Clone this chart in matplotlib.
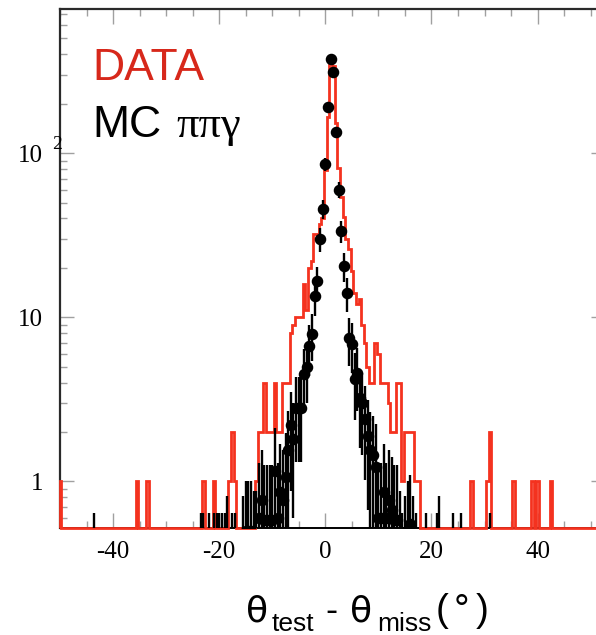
import numpy as np
import matplotlib
matplotlib.use("Agg")
import matplotlib.pyplot as plt
from matplotlib.ticker import MultipleLocator, FixedLocator, NullFormatter, FixedFormatter

plt.rcParams['axes.unicode_minus'] = False

BIN_W = 0.5

# DATA: event counts per 0.5 deg bin, core region given by bin centre
data_core_start = -13.0
data_core = [1, 2, 2, 4, 2, 2, 2, 4, 2, 2, 4, 4, 4,            # -13.0 .. -7.0
             8, 9, 10, 10, 10, 16, 11, 20, 22, 32, 32, 37, 40,  # -6.5 .. -0.5
             79, 166, 375, 340, 152, 81, 54, 41, 30, 26, 19, 14, 12, 13, 9, 7,  # 0.0 .. 7.5
             5, 4, 4, 7, 6, 4, 4, 4, 3, 2, 2, 4, 4, 1, 2, 2, 2, 2, 1, 1]        # 8.0 .. 17.5
# isolated DATA entries in the tails
data_tail_x = [-50.0, -35.5, -33.5, -23.0, -21.0, -18.0, -17.5, -17.0,
               27.5, 30.5, 31.0, 35.5, 39.0, 40.0, 42.5]
data_tail_n = [1, 1, 1, 1, 1, 1, 2, 1, 1, 1, 2, 1, 1, 1, 1]

# MC pi pi gamma: normalised bin contents, core region
mc_core_start = -13.5
mc_core = [0.35, 0.35, 0.6, 0.77, 0.58, 0.58, 0.58, 0.58, 1.15, 0.6, 0.86, 0.77, 1.06, 1.56,
           2.2, 1.8, 2.8, 2.8, 2.8, 4.5, 5.0, 6.7, 7.9, 13.4, 16.7, 29.9, 45.6,
           85.7, 191, 374, 313, 134, 60, 33.6, 20.5, 14.1, 7.5, 6.9, 4.2, 4.6, 3.2, 3.0,
           2.4, 1.9, 1.55, 1.44, 1.23, 0.6, 0.6, 0.86, 0.6, 0.77, 0.67, 0.58, 0.58, 0.35]
# single weighted MC events far out in the tails
mc_tail_x = [-43.5, -23.5, -23.0, -22.0, -21.0, -20.5, -20.0, -19.5, -19.0, -18.5, -17.5, -17.0,
             -15.5, -15.0, -14.5, -14.0, 14.5, 15.0, 15.5, 16.0, 16.5, 17.0, 19.0, 21.0, 21.5,
             24.0, 25.5, 31.0]
mc_tail_v = [0.32, 0.32, 0.32, 0.32, 0.32, 0.32, 0.32, 0.32, 0.32, 0.41, 0.32, 0.32,
             0.41, 0.5, 0.5, 0.5, 0.32, 0.41, 0.5, 0.55, 0.41, 0.32, 0.32, 0.32, 0.41,
             0.32, 0.32, 0.32]
MC_WEIGHT = 0.8   # effective per-event weight of the normalised MC core

x_ticks = [-40, -20, 0, 20, 40]
YMIN, YMAX = 0.52, 755.0
XMIN, XMAX = -50.0, 52.7

RED_LINE = '#f4321f'
RED_TEXT = '#d7281b'

# ---- histogram binning
edges = np.arange(-50.25, 53.0, BIN_W)
centres = edges[:-1] + BIN_W / 2
counts = np.zeros(len(centres))


def bin_index(c):
    return int(round((c - centres[0]) / BIN_W))


for k, v in enumerate(data_core):
    counts[bin_index(data_core_start + k * BIN_W)] += v
for c, v in zip(data_tail_x, data_tail_n):
    counts[bin_index(c)] += v

mc_core_x = mc_core_start + BIN_W * np.arange(len(mc_core))
mc_core_v = np.array(mc_core)
mc_core_e = np.sqrt(mc_core_v * MC_WEIGHT)
mc_tail_e = np.array(mc_tail_v)          # one event: error equals its weight
mc_x = np.concatenate([mc_core_x, mc_tail_x])
mc_v = np.concatenate([mc_core_v, mc_tail_v])
mc_e = np.concatenate([mc_core_e, mc_tail_e])

fig = plt.figure(figsize=(5.96, 6.35), dpi=100)
W, H = 596.0, 635.0
ax_l, ax_r, ax_t, ax_b = 60.0, 605.0, 9.0, 528.0
ax = fig.add_axes([ax_l / W, 1 - ax_b / H, (ax_r - ax_l) / W, (ax_b - ax_t) / H])
ax.set_yscale('log')
ax.set_xlim(XMIN, XMAX)
ax.set_ylim(YMIN, YMAX)

# DATA as an outline histogram; empty bins sit on the bottom of the frame
stair_vals = np.where(counts > 0, counts, YMIN)
e = edges.copy()
e[0] = XMIN
ax.stairs(stair_vals, e, baseline=YMIN, fill=False, color=RED_LINE, lw=2.0,
          zorder=3, clip_on=False)

# MC points with error bars
lo = np.clip(mc_v - mc_e, 1e-3, None)
hi = mc_v + mc_e
ax.vlines(mc_x, lo, hi, color='black', lw=1.7, zorder=4)
ax.plot(mc_x, mc_v, 'o', color='black', ms=7.3, zorder=5)

# frame
for s in ['left', 'top', 'right']:
    ax.spines[s].set_color('#2a2a2a')
    ax.spines[s].set_linewidth(1.6)
ax.spines['bottom'].set_color('black')
ax.spines['bottom'].set_linewidth(1.4)

ax.xaxis.set_major_locator(FixedLocator(x_ticks))
ax.xaxis.set_minor_locator(MultipleLocator(5))
ax.yaxis.set_major_locator(FixedLocator([1, 10, 100]))
ax.yaxis.set_major_formatter(FixedFormatter(['1', '10', '10']))
ax.yaxis.set_minor_locator(FixedLocator([m * 10.0 ** d for d in (-1, 0, 1, 2) for m in range(2, 10)]))
ax.yaxis.set_minor_formatter(NullFormatter())

tick_col = '#a0a0a0'
ax.tick_params(axis='x', which='major', direction='in', top=True, bottom=True,
               length=10.5, width=1.0, color=tick_col, labelsize=18, pad=9)
ax.tick_params(axis='x', which='minor', direction='in', top=True, bottom=True,
               length=5, width=1.0, color=tick_col)
ax.tick_params(axis='y', which='major', direction='in', left=True, right=True,
               length=10, width=1.0, color=tick_col, labelsize=18, pad=12)
ax.tick_params(axis='y', which='minor', direction='in', left=True, right=True,
               length=5, width=1.0, color=tick_col)
for lab in ax.get_xticklabels() + ax.get_yticklabels():
    lab.set_family('Liberation Serif')

# exponent of the 10^2 label
fig.text(52 / W, 1 - 149 / H, '2', family='Liberation Serif', fontsize=14,
         ha='left', va='baseline')

# legend text
fig.text(92 / W, 1 - 80 / H, 'DATA', color=RED_TEXT, family='Liberation Sans',
         fontsize=32, ha='left', va='baseline')
fig.text(92 / W, 1 - 137 / H, 'MC', color='black', family='Liberation Sans',
         fontsize=32, ha='left', va='baseline')
fig.text(176 / W, 1 - 137 / H, 'ππγ', color='black', family='Liberation Serif',
         fontsize=32, ha='left', va='baseline')

# axis title, assembled piece by piece (symbol, subscripts, unit)
title_base = 1 - 621 / H
sub_base = 1 - 631 / H
title_pieces = [
    (246, title_base, 'θ', 'DejaVu Sans', 26),
    (272, sub_base, 'test', 'Liberation Sans', 19),
    (325, title_base, '-', 'Liberation Sans', 26),
    (350, title_base, 'θ', 'DejaVu Sans', 26),
    (377, sub_base, 'miss', 'Liberation Sans', 19),
    (436, title_base, '(', 'Liberation Sans', 28),
    (454, title_base, '°', 'Liberation Sans', 28),
    (476, title_base, ')', 'Liberation Sans', 28),
]
for px, yb, txt, fam, fs in title_pieces:
    fig.text(px / W, yb, txt, family=fam, fontsize=fs, ha='left', va='baseline')

fig.savefig('out.png', dpi=100)
